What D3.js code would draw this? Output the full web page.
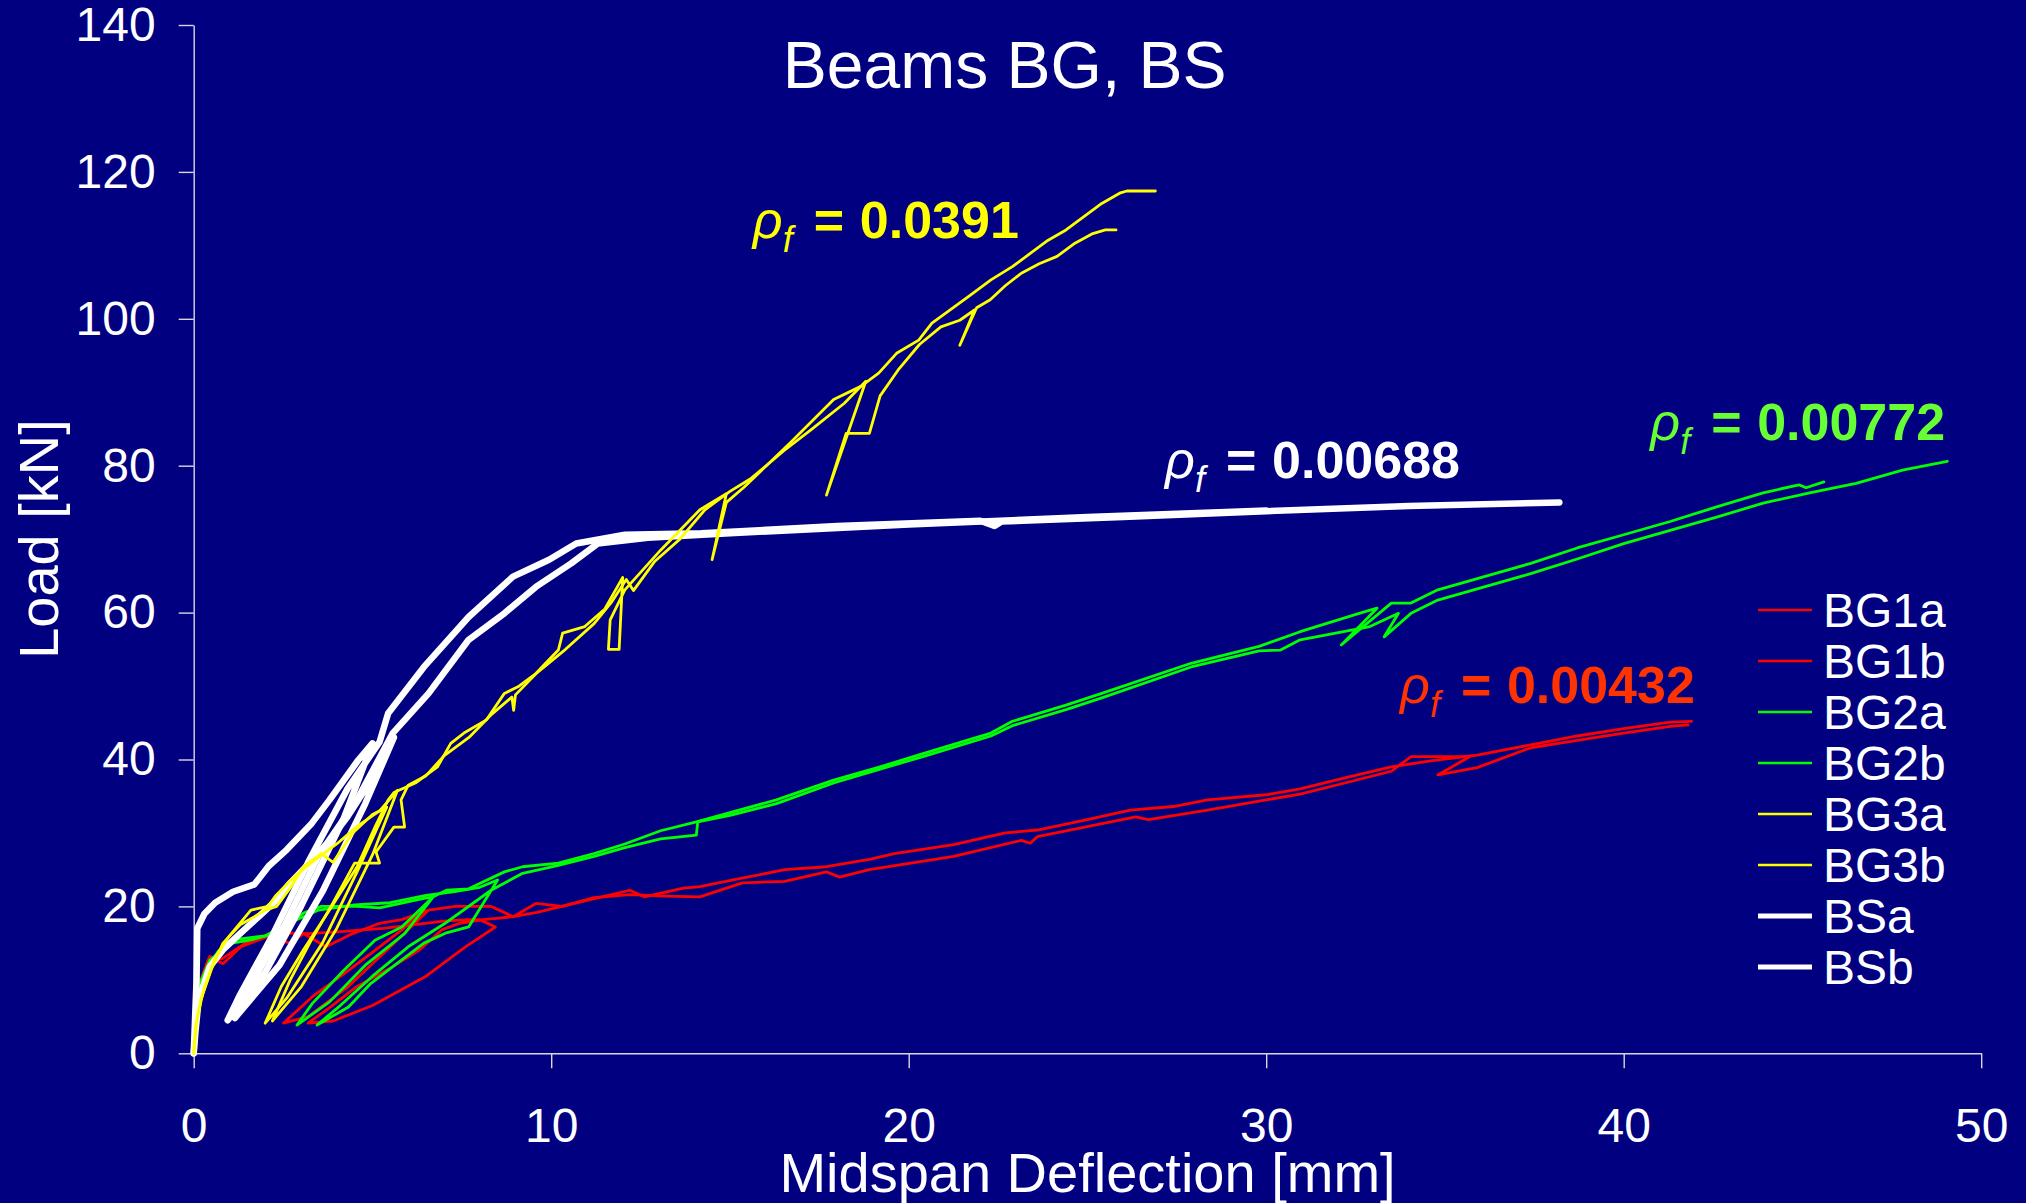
<!DOCTYPE html>
<html>
<head>
<meta charset="utf-8">
<script src="https://cdn.jsdelivr.net/npm/d3@7"></script>
<style>
  html, body { margin: 0; padding: 0; background: #000080; }
  svg { display: block; }
  text { font-family: "Liberation Sans", Arial, sans-serif; }
</style>
</head>
<body>
<svg id="chart" width="2026" height="1203"></svg>
<script>
// ---------------- DATA ----------------
const xTicks = [0, 10, 20, 30, 40, 50];
const yTicks = [0, 20, 40, 60, 80, 100, 120, 140];
const seriesNames = ["BG1a", "BG1b", "BG2a", "BG2b", "BG3a", "BG3b", "BSa", "BSb"];
const seriesColors = ["#FF0000", "#FF0000", "#00FF00", "#00FF00", "#FFFF00", "#FFFF00", "#FFFFFF", "#FFFFFF"];

// [deflection mm, load kN]
const BG1a = [[0,0],[0.05,6],[0.2,10],[0.45,13.2],[0.82,12.2],[1.32,14.5],[2.07,15.9],[2.7,15],[3.07,16.3],[3.7,14.5],[4.45,16.3],[5.2,17.7],[5.82,18.2],[6.57,19.5],
  [5.5,14.5],[4.3,9],[3.2,5],[2.51,4.1],[3.32,7.7],[4.33,11.3],[5.2,14.5],[5.82,16.8],[6.32,19.1],[6.57,19.5],
  [7.32,20],[8.32,20],[8.94,18.6],[9.57,20.4],[10.3,20],[11.06,20.9],[12.2,22.2],[12.6,21.3],[13.7,22.5],[14.16,22.7],
  [15.3,23.8],[16.53,25],[17.7,25.4],[18.9,26.4],[19.6,27.2],[21.26,28.4],[22.7,30],[23.6,30.4],[24.8,31.6],[26.2,33.1],[27.4,33.6],[28.36,34.5],
  [30,35.2],[30.95,36],[32.2,37.5],[33.5,39],[34.6,39.8],[35.9,40.6],[37.4,42],[38.7,43.2],[40,44.2],[41.3,45.1],[41.9,45.2]];
const BG1b = [[0,0],[0.05,5],[0.15,9],[0.4,12.7],[0.8,12.9],[1.57,15.4],[2.32,16.4],[3.2,16.3],[4.2,16.6],[5.3,17],[6.3,17.6],[7.0,18],[7.69,18.2],[8.0,18.2],[8.44,17.2],
  [7.6,14.5],[6.5,10.5],[5.0,6.5],[3.9,4.4],[3.2,4.1],[3.82,6.3],[4.57,9.1],[5.57,11.8],[6.32,14.1],[6.94,16.8],[7.44,17.7],[8.1,18.2],[8.94,18.6],
  [9.6,19.2],[10.3,20],[11.2,21.2],[12.2,21.6],[13.2,21.4],[14.16,21.3],[15.35,23.2],[16.53,23.4],[17.7,24.7],[18.06,24.0],[18.9,25],[21.26,26.8],
  [23.15,29],[23.4,28.6],[23.6,29.5],[26.35,32.2],[26.7,31.8],[28.36,33.1],[30,34.5],[30.95,35.3],[32.2,36.8],[33.5,38.4],
  [34.05,40.4],[35.7,40.4],[34.8,37.9],[35.9,38.9],[37.4,41.6],[38.7,42.6],[40,43.6],[41.3,44.5],[41.8,44.7]];
const BG2a = [[0,0],[0.05,5],[0.14,9.1],[0.45,12.7],[1.07,15],[1.57,15.4],[2.32,16.4],[3.07,19.1],[3.57,20],[4.57,20],[5.2,19.8],[6.44,21.1],[6.7,21.3],
  [5.9,16.3],[4.8,12],[3.8,7],[2.89,3.85],[3.32,6.8],[4.2,11.3],[5.07,15.4],[5.82,17.2],[6.7,21.3],[7.07,22.2],[7.69,22.4],[8.69,24.7],[9.2,25.4],
  [10.2,25.9],[11.2,27.2],[12.06,28.5],[13.06,30.3],[14.06,31.5],[14.8,32.5],[16.3,34.5],[17.9,37.2],[19.2,39],[20.4,40.8],[22.3,43.6],[22.9,45.2],
  [24.4,47.4],[25.4,49],[27.9,53.1],[29.8,55.4],[30.95,57.4],[32.6,59.9],[33.1,60.6],[32.1,55.6],[33.5,61.3],[34.05,61.3],[34.8,63.1],[36.1,64.9],
  [37.4,66.7],[38.7,68.8],[40.0,70.6],[41.3,72.4],[42.6,74.4],[43.9,76.3],[44.9,77.4],[45.1,77.0],[45.6,77.8]];
const BG2b = [[0,0],[0.08,6],[0.3,11],[0.7,14],[1.2,15.5],[2.0,16],[2.8,18],[3.5,19.5],[4.5,20.2],[5.5,20.5],[6.5,21.5],[7.3,22],[8.0,22.6],[8.5,23.6],
  [7.69,17.2],[7.07,16.4],[6.44,15],[5.57,11.8],[4.95,9.5],[4.33,6.3],[3.45,3.85],[4.1,6.5],[5.0,10.5],[6.0,14.5],[7.0,17.6],[8.32,22.2],[9.2,24.5],
  [10.2,25.6],[11.2,26.8],[12.06,28],[13.06,29.2],[14.06,29.7],[14.1,31.5],[15,32.4],[16.3,34],[17.9,36.8],[19.2,38.7],[20.4,40.4],[22.3,43.2],[22.9,44.6],
  [24.4,46.8],[25.4,48.4],[27.9,52.6],[29.8,54.8],[30.4,54.9],[30.95,56.3],[32.9,58.1],[33.7,59.9],[33.3,56.7],[34.05,59.9],[34.8,61.7],[36.1,63.5],
  [37.4,65.3],[38.7,67.3],[40,69.4],[41.3,71.2],[42.6,73],[43.9,74.9],[45.2,76.3],[46.5,77.6],[47.8,79.4],[49.05,80.6]];
const BG3a = [[0,0],[0.05,3.5],[0.2,7.3],[0.5,11.5],[0.82,15],[1.3,17.5],[1.7,18.6],[2.0,19.5],[2.32,20],[2.7,22.5],[3.07,25.4],[3.57,27.2],[3.9,26],[4.45,30],[5.0,32.5],[5.4,33.5],
  [4.6,25],[3.6,15],[2.6,7.5],[2.0,4.1],[2.45,9.1],[3.07,14.1],[3.8,19.5],[4.57,25.4],[5.07,30.8],[5.44,34.5],[5.6,35.5],[6.2,36.8],[6.82,39],[7.19,42.2],
  [7.56,43.6],[8.19,45.4],[8.69,49],[9.07,49.9],[9.57,51.7],[10.2,54.9],[10.32,57.2],[10.94,58.1],[11.5,60.5],[12.0,64.8],[11.9,55],[11.6,55],[11.65,59],
  [12.06,63.1],[13.06,68.5],[14.16,74],[14.9,76.2],[14.5,67.2],[14.9,75],[15.4,77.1],[16.66,83],[17.9,89],[18.66,90.8],[19.16,92.6],[19.66,95.3],
  [20.28,97.1],[20.65,99.4],[21.16,101.2],[21.66,103],[22.3,105.3],[22.9,107.1],[23.4,108.9],[23.9,110.7],[24.4,112.1],[24.9,113.9],[25.4,115.7],
  [25.9,117.1],[26.1,117.4],[26.9,117.4]];
const BG3b = [[0,0],[0.1,5],[0.3,9],[0.6,13],[1.0,16],[1.6,19.5],[2.08,20],[2.3,21.5],[2.8,24],[3.3,26],[4.0,28.5],[4.6,31],[5.2,33],[5.7,35.8],
  [5.0,27],[4.0,17],[3.0,9],[2.2,4.4],[2.7,10],[3.3,15.5],[3.9,20.5],[4.5,25.9],[5.2,25.9],[5.1,27.4],[5.6,30.8],[5.9,30.8],[5.8,34.5],[6.0,36.5],
  [6.5,37.8],[7.0,40.5],[7.7,43],[8.3,46],[8.9,48.5],[8.95,46.7],[9.0,48.8],[9.6,51.8],[10.4,55],[11.2,58.5],[11.7,61.5],[12.1,64.5],[12.3,63],[12.9,67],
  [13.6,70],[14.3,74],[15.0,76.5],[15.6,78.3],[16.5,82],[17.3,85],[18.2,88.5],[18.8,91.5],[17.7,76],[18.25,84.4],[18.9,84.4],[19.2,89.5],[19.7,93],
  [20.3,96.5],[20.9,98.9],[21.43,99.8],[21.84,101.2],[21.43,96.4],[21.9,101.5],[22.28,102.6],[22.7,104.5],[23.15,106.2],[23.65,107.5],[24.15,108.5],
  [24.65,110.3],[25.15,111.6],[25.5,112.1],[25.8,112.1]];
const BSa = [[0,0],[0.08,10],[0.1,17],[0.3,19],[0.6,20.5],[1.1,22],[1.7,23],[2.1,25.5],[2.6,27.7],[3.3,31.3],[3.8,34.5],[4.6,39.9],[5.0,42.2],
  [4.2,32],[3.0,20],[2.0,11],[0.95,4.5],[1.3,8],[2.2,16],[3.2,26],[4.3,36],[5.2,42.4],[5.44,46.3],[6.44,52.6],[7.69,59.4],[8.93,64.9],[9.94,67.2],
  [10.7,69.4],[12.06,70.6],[14.2,70.8],[18,71.8],[22,72.5],[22.4,71.8],[22.6,72.4],[26,73],[30,73.8],[34,74.5],[38.2,75]];
const BSb = [[0,0],[0.05,3],[0.14,7.3],[0.45,11.8],[0.82,14.1],[1.32,16.4],[1.82,18.6],[2.32,20.9],[2.7,23.2],[3.32,26.3],[3.8,29],[4.3,32.2],[4.8,36],[5.2,39],[5.6,43],
  [4.8,34],[3.6,22],[2.4,12],[1.15,4.8],[1.5,8.5],[2.5,17],[3.5,27],[4.57,34.5],[5.57,43.6],[6.57,49],[7.69,56.3],[8.69,59.9],[9.57,63.5],[10.56,66.7],
  [11.3,69.4],[12.7,70.2],[15,70.8],[20,72],[25,73],[30,73.9]];
const seriesData = [BG1a, BG1b, BG2a, BG2b, BG3a, BG3b, BSa, BSb];

const annotations = [
  {value: "0.0391",  color: "#FFFF00", x: 15.64, y: 110.96},
  {value: "0.00688", color: "#FFFFFF", x: 27.17, y: 78.28},
  {value: "0.00772", color: "#66FF33", x: 40.74, y: 83.5},
  {value: "0.00432", color: "#FF3300", x: 33.74, y: 47.65}
];

// ---------------- CHART ----------------
const svg = d3.select("#chart");
svg.append("rect").attr("width", 2026).attr("height", 1203).attr("fill", "#000080");

const x = d3.scaleLinear().domain([0, 50]).range([193.7, 1981.2]);
const y = d3.scaleLinear().domain([0, 140]).range([1053.3, 25]);

// axes
const axisColor = "#d8d8e0";
const gx = svg.append("g").attr("transform", `translate(0,${y(0)})`)
  .call(d3.axisBottom(x).tickValues(xTicks).tickSize(15).tickSizeOuter(0).tickPadding(40).tickFormat(d3.format("d")));
const gy = svg.append("g").attr("transform", `translate(${x(0)},0)`)
  .call(d3.axisLeft(y).tickValues(yTicks).tickSize(15).tickSizeOuter(0).tickPadding(23).tickFormat(d3.format("d")));
[gx, gy].forEach(g => {
  g.select(".domain").attr("stroke", axisColor).attr("stroke-width", 1.4);
  g.selectAll(".tick line").attr("stroke", axisColor).attr("stroke-width", 1.4);
  g.selectAll(".tick text").attr("fill", "#FFFFFF").attr("font-size", 48)
    .attr("font-family", "'Liberation Sans', Arial, sans-serif");
});

// lines
const line = d3.line().x(d => x(d[0])).y(d => y(d[1]));
const drawOrder = [0, 1, 2, 3, 6, 7, 4, 5];
drawOrder.forEach(i => {
  svg.append("path")
    .attr("d", line(seriesData[i]))
    .attr("fill", "none")
    .attr("stroke", seriesColors[i])
    .attr("stroke-width", seriesNames[i].startsWith("BS") ? 6.5 : 2.8)
    .attr("stroke-linejoin", "round")
    .attr("stroke-linecap", "round");
});

// title
svg.append("text").attr("x", 1004.7).attr("y", 88).attr("text-anchor", "middle")
  .attr("fill", "#FFFFFF").attr("font-size", 66).text("Beams BG, BS");

// axis titles
svg.append("text").attr("x", 1087.5).attr("y", 1192).attr("text-anchor", "middle")
  .attr("fill", "#FFFFFF").attr("font-size", 56).text("Midspan Deflection [mm]");
svg.append("text").attr("transform", "translate(58,539) rotate(-90)").attr("text-anchor", "middle")
  .attr("fill", "#FFFFFF").attr("font-size", 56).text("Load [kN]");

// annotations
annotations.forEach(a => {
  const x0 = x(a.x), y0 = y(a.y);
  const t = svg.append("text").attr("x", x0).attr("y", y0).attr("fill", a.color);
  t.append("tspan").attr("font-style", "italic").attr("font-size", 52).text("ρ");
  t.append("tspan").attr("font-style", "italic").attr("font-size", 36).attr("x", x0 + 30).attr("dy", 14).text("f");
  t.append("tspan").attr("font-weight", "bold").attr("font-size", 52).attr("x", x0 + 61).attr("dy", -14).text("=");
  t.append("tspan").attr("font-weight", "bold").attr("font-size", 52).attr("x", x0 + 107).text(a.value);
});

// legend
const legend = svg.append("g");
seriesNames.forEach((name, i) => {
  const ly = 610 + i * 51;
  legend.append("line").attr("x1", 1758).attr("x2", 1812).attr("y1", ly).attr("y2", ly)
    .attr("stroke", seriesColors[i]).attr("stroke-width", name.startsWith("BS") ? 5 : 2.6);
  legend.append("text").attr("x", 1823).attr("y", ly + 17).attr("fill", "#FFFFFF")
    .attr("font-size", 48).text(name);
});
</script>
</body>
</html>
